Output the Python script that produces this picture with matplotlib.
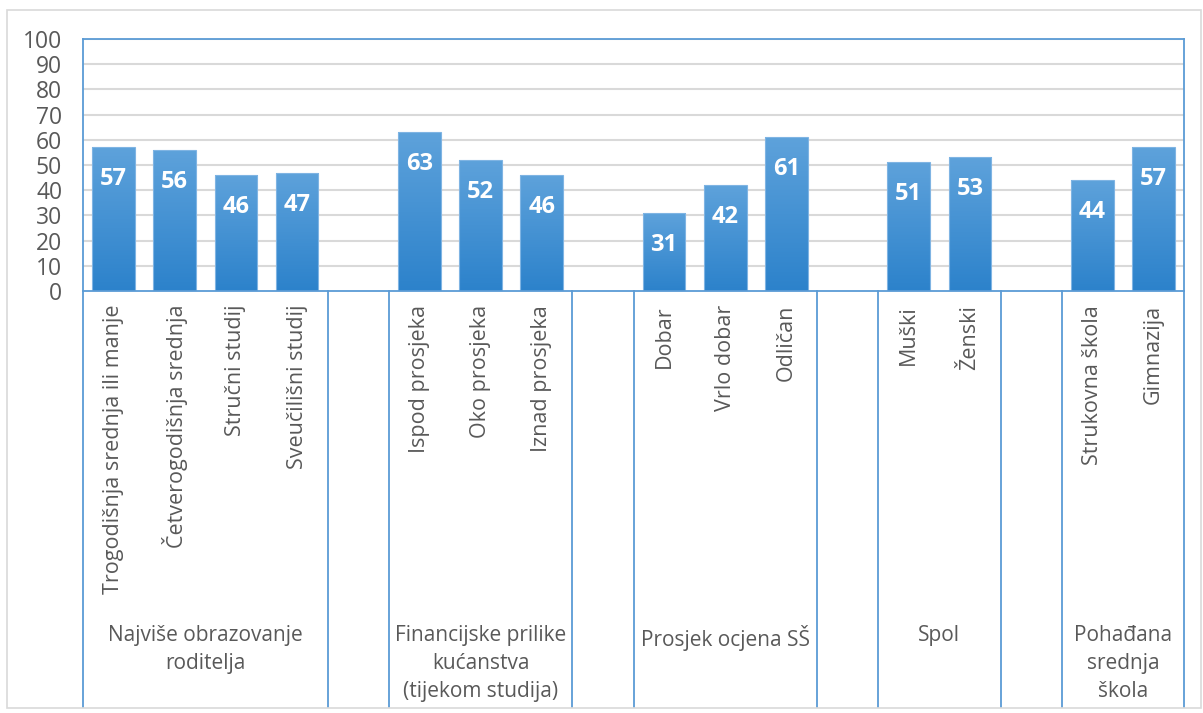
import matplotlib.pyplot as plt
import numpy as np
from matplotlib.colors import LinearSegmentedColormap
from matplotlib.patches import Rectangle

# groups of bars, values in %
group_names = ["Najviše obrazovanje\nroditelja",
               "Financijske prilike\nkućanstva\n(tijekom studija)",
               "Prosjek ocjena SŠ",
               "Spol",
               "Pohađana\nsrednja\nškola"]
obrazovanje_labels = ["Trogodišnja srednja ili manje", "Četverogodišnja srednja",
                      "Stručni studij", "Sveučilišni studij"]
obrazovanje_vals = [57, 56, 46, 47]
financije_labels = ["Ispod prosjeka", "Oko prosjeka", "Iznad prosjeka"]
financije_vals = [63, 52, 46]
ocjene_labels = ["Dobar", "Vrlo dobar", "Odličan"]
ocjene_vals = [31, 42, 61]
spol_labels = ["Muški", "Ženski"]
spol_vals = [51, 53]
skola_labels = ["Strukovna škola", "Gimnazija"]
skola_vals = [44, 57]
yticks = list(range(0, 101, 10))

groups = [(obrazovanje_labels, obrazovanje_vals), (financije_labels, financije_vals),
          (ocjene_labels, ocjene_vals), (spol_labels, spol_vals), (skola_labels, skola_vals)]

plt.rcParams['font.family'] = ['Open Sans', 'DejaVu Sans']
TXT = '#595959'
EDGE = '#5B9BD5'
cmap = LinearSegmentedColormap.from_list('bar', ['#2C82CB', '#5EA2DB'])

fig = plt.figure(figsize=(12.03, 7.13), dpi=100)
fig.patches.append(Rectangle((7 / 1203, 5 / 713), 1194 / 1203, 698 / 713, transform=fig.transFigure,
                             fill=False, edgecolor='#D9D9D9', lw=1.2))
ax = fig.add_axes([83 / 1203, 1 - 291 / 713, (1184 - 83) / 1203, 252 / 713])

# positions with one blank slot between groups
xs, vals, labels, bounds, centers = [], [], [], [], []
pos = 0
for gi, (labs, vs) in enumerate(groups):
    start = pos
    for l, v in zip(labs, vs):
        xs.append(pos); vals.append(v); labels.append(l)
        pos += 1
    bounds += [start - 0.5, pos - 0.5]
    centers.append((start + pos - 1) / 2)
    pos += 1
last = pos - 2

for y in yticks[1:]:
    ax.axhline(y, color='#D9D9D9', lw=1.5, zorder=0)

bars = ax.bar(xs, vals, width=0.7, color='none', edgecolor='#7FB4E3', lw=0.8, zorder=2)
grad = np.linspace(0, 1, 256).reshape(-1, 1)
for b in bars:
    x0, y0 = b.get_x(), b.get_y()
    im = ax.imshow(grad, cmap=cmap, origin='lower', aspect='auto', zorder=1,
                   extent=[x0, x0 + b.get_width(), y0, y0 + b.get_height()])
    im.set_clip_path(b)

for x, v in zip(xs, vals):
    ax.annotate(str(v), (x, v), xytext=(0, -23), textcoords='offset points',
                ha='center', va='center', color='white', fontsize=17, fontweight='bold')

ax.set_xlim(-0.5, last + 0.5)
ax.set_ylim(0, 100)
ax.set_yticks(yticks)
ax.tick_params(axis='y', length=0, labelsize=16.5, labelcolor=TXT, pad=15)
ax.set_xticks(xs)
ax.set_xticklabels(labels, rotation=90, fontsize=15.5, color=TXT, va='top')
ax.tick_params(axis='x', length=0, pad=10)
for s in ax.spines.values():
    s.set_color(EDGE)
    s.set_linewidth(1.3)

trans = ax.get_xaxis_transform()
for bx in bounds:
    ax.plot([bx, bx], [0, -1.65], color=EDGE, lw=1.3, transform=trans, clip_on=False)
for c, name in zip(centers, group_names):
    ax.text(c, -1.325, name, transform=trans, ha='center', va='top', fontsize=15,
            color=TXT, linespacing=1.45)

fig.savefig('out.png', dpi=100)
